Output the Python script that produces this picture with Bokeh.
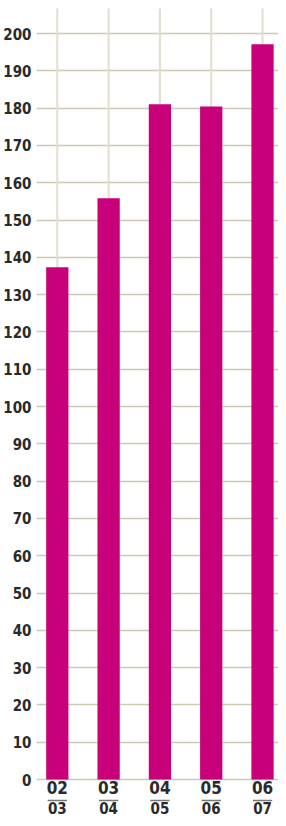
from bokeh.plotting import figure
from bokeh.models import FixedTicker, Range1d
from bokeh.core.properties import value
from bokeh.embed import file_html
from bokeh.resources import INLINE

# data
season_start = ["02", "03", "04", "05", "06"]
season_end = ["03", "04", "05", "06", "07"]
values = [137.3, 155.8, 181.0, 180.4, 197.1]
y_ticks = list(range(0, 201, 10))

BAR = "#c8007a"
HGRID = "#cfc8b2"
VGRID = "#e2ddcf"
TXT = "#2a2a2a"
FONT = "DejaVu Sans Condensed, Liberation Sans Narrow, sans-serif"

W, H = 278, 818
left_border = 28
px_per_unit = 3.73
y_top = 200 + 33 / px_per_unit
y_bottom = y_top - H / px_per_unit
guide_top = 200 + 25 / px_per_unit

xs = list(range(len(values)))
slot = 53.0
frame_w = W - left_border
x_start = -21.5 / slot
x_end = x_start + frame_w / slot

p = figure(width=W, height=H, output_backend="svg", toolbar_location=None,
           x_range=Range1d(x_start, x_end), y_range=Range1d(y_bottom, y_top),
           min_border_left=left_border, min_border_right=0,
           min_border_top=0, min_border_bottom=0)
p.outline_line_color = None
p.background_fill_color = "white"
p.border_fill_color = "white"

p.xaxis.visible = False
p.xgrid.grid_line_color = None
p.ygrid.ticker = FixedTicker(ticks=y_ticks)
p.ygrid.grid_line_color = HGRID
p.ygrid.grid_line_width = 1.5

ya = p.yaxis[0]
ya.ticker = FixedTicker(ticks=y_ticks)
ya.axis_line_color = None
ya.major_tick_line_color = None
ya.minor_tick_line_color = None
ya.major_tick_out = 0
ya.major_tick_in = 0
ya.major_label_standoff = 5
ya.major_label_text_font = FONT
ya.major_label_text_font_style = "bold"
ya.major_label_text_font_size = "15px"
ya.major_label_text_color = TXT

# vertical guide lines at each category
p.segment(x0=xs, y0=[0] * len(xs), x1=xs, y1=[guide_top] * len(xs),
          line_color=VGRID, line_width=2)

p.vbar(x=xs, top=values, width=23 / slot, bottom=0, fill_color=BAR, line_color=None)

# category labels: start year, rule, end year
p.text(x=xs, y=[0] * len(xs), text=season_start, text_align="center",
       text_baseline="top", y_offset=1,
       text_font=value(FONT), text_font_style="bold", text_font_size="17px",
       text_color=TXT)
ul = -21 / px_per_unit
half = 10 / slot
p.segment(x0=[x - half for x in xs], y0=[ul] * len(xs), x1=[x + half for x in xs],
          y1=[ul] * len(xs), line_color="#777777", line_width=1.5)
p.text(x=xs, y=[0] * len(xs), text=season_end, text_align="center",
       text_baseline="top", y_offset=22,
       text_font=value(FONT), text_font_style="bold", text_font_size="15px",
       text_color=TXT)

open("out.html", "w").write(file_html(p, INLINE))
